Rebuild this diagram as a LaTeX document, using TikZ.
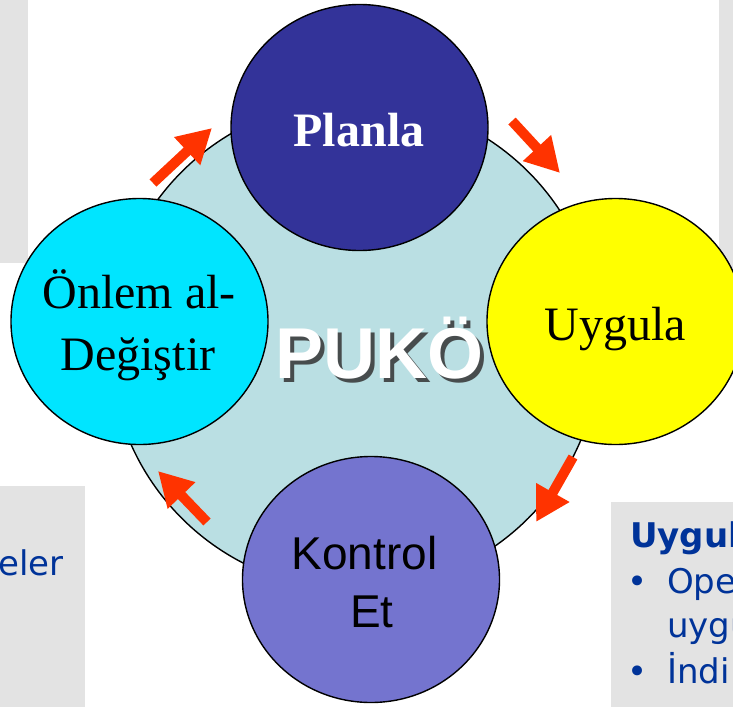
\documentclass[tikz,border=0pt]{standalone}
\usepackage{fontspec}
\setmainfont{Liberation Serif}
\newfontfamily\arialfont{Liberation Sans}
\newfontfamily\tahomafont{DejaVu Sans}
\usepackage{tikz}
\usetikzlibrary{shapes.geometric, arrows.meta, positioning}

\definecolor{pukobg}{HTML}{BADFE3}
\definecolor{planblue}{HTML}{333399}
\definecolor{onlemcyan}{HTML}{00E5FF}
\definecolor{uygyellow}{HTML}{FFFF00}
\definecolor{kontrolviolet}{HTML}{7474CF}
\definecolor{arrowred}{HTML}{FF3300}
\definecolor{panelgrey}{HTML}{E3E3E3}
\definecolor{textblue}{HTML}{003399}

\tikzset{
  stage/.style={ellipse, draw=black, line width=1.4pt, inner sep=0pt, minimum width=257pt, minimum height=246pt},
  stagetext/.style={anchor=base, inner sep=0pt, font=\fontsize{48}{56}\selectfont},
  cyclearrow/.style={arrowred, line width=10pt, -{Triangle[width=36pt,length=34pt]}},
  panel/.style={fill=panelgrey, draw=none},
  paneltext/.style={anchor=base west, inner sep=0pt, text=textblue, font=\tahomafont\fontsize{34}{40}\selectfont}
}

\begin{document}
\begin{tikzpicture}[x=1pt, y=-1pt]
\useasboundingbox (0,0) rectangle (733,707);
\clip (0,0) rectangle (733,707);
% slide boxes behind the cycle
\fill [panel] (0,0) rectangle (28,263);
\fill [panel] (719,0) rectangle (733,268);
\fill [panel] (0,486) rectangle (85,707);
\fill [panel] (611,502) rectangle (733,707);
\node [paneltext, anchor=base east] (lefttext) at (64,575) {eler};
\node [paneltext, font=\tahomafont\bfseries\fontsize{34}{40}\selectfont] (uygbaslik) at (630,547) {Uygul};
\node [paneltext] (bullet1) at (627,593) {•};
\node [paneltext] (ope) at (667,593) {Ope};
\node [paneltext] (uygu) at (667,637) {uygu};
\node [paneltext] (bullet2) at (627,683) {•};
\node [paneltext] (indi) at (667,683) {İndi};

\node [circle, draw=black, line width=1.4pt, fill=pukobg, minimum size=490pt, inner sep=0pt] (puko) at (355,345) {};
\node [anchor=base, inner sep=0pt, text=black!80, opacity=.85, font=\arialfont\bfseries\fontsize{72}{80}\selectfont] (pukoshadow) at (383.5,382) {PUKÖ};
\node [anchor=base, inner sep=0pt, text=white, font=\arialfont\bfseries\fontsize{72}{80}\selectfont] (pukotext) at (379.5,378) {PUKÖ};

\node [stage, fill=planblue] (planla) at (359.5,127.5) {};
\node [stage, fill=uygyellow] (uygula) at (615.5,321.5) {};
\node [stage, fill=kontrolviolet] (kontrol) at (371,579.5) {};
\node [stage, fill=onlemcyan] (onlem) at (139.5,321.5) {};

\node [stagetext, text=white, font=\bfseries\fontsize{48}{56}\selectfont] (planla-t) at (359,146) {Planla};
\node [stagetext] (uygula-t) at (615,340) {Uygula};
\node [stagetext] (onlem-t1) at (139,308) {Önlem al-};
\node [stagetext] (onlem-t2) at (138,370) {Değiştir};
\node [stagetext, font=\arialfont\fontsize{46}{54}\selectfont] (kontrol-t1) at (364.5,569) {Kontrol};
\node [stagetext, font=\arialfont\fontsize{46}{54}\selectfont] (kontrol-t2) at (372,627) {Et};

% arrows round the cycle
\coordinate (a1s) at (153,183);
\coordinate (a1e) at (212,128);
\coordinate (a2s) at (512,121);
\coordinate (a2e) at (560,173);
\coordinate (a3s) at (573,457);
\coordinate (a3e) at (536,522);
\coordinate (a4s) at (207,522);
\coordinate (a4e) at (158,471);
\draw [cyclearrow] (a1s) -- (a1e);
\draw [cyclearrow] (a2s) -- (a2e);
\draw [cyclearrow] (a3s) -- (a3e);
\draw [cyclearrow] (a4s) -- (a4e);
\end{tikzpicture}
\end{document}
